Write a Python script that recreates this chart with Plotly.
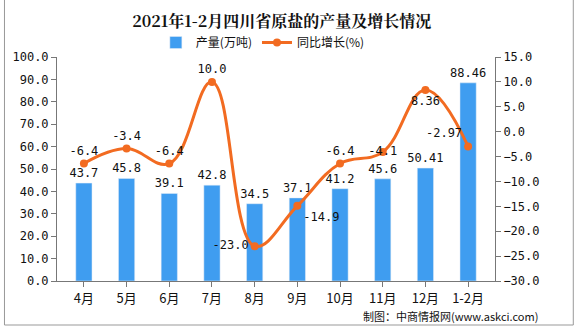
import plotly.graph_objects as go

categories = ["4月", "5月", "6月", "7月", "8月", "9月", "10月", "11月", "12月", "1-2月"]
output = [43.7, 45.8, 39.1, 42.8, 34.5, 37.1, 41.2, 45.6, 50.41, 88.46]
growth = [-6.4, -3.4, -6.4, 10.0, -23.0, -14.9, -6.4, -4.1, 8.36, -2.97]
output_labels = ["43.7", "45.8", "39.1", "42.8", "34.5", "37.1", "41.2", "45.6", "50.41", "88.46"]
growth_labels = ["-6.4", "-3.4", "-6.4", "10.0", "-23.0", "-14.9", "-6.4", "-4.1", "8.36", "-2.97"]
growth_pos = ["top center", "top center", "top center", "top center", "middle left",
              "bottom right", "top center", "middle center", "bottom center", "top left"]

FONT = "DejaVu Sans Mono, Noto Sans CJK SC"
CJK = "Noto Sans CJK SC"
fig = go.Figure()
fig.add_trace(go.Bar(
    x=categories, y=output, name="产量(万吨)", marker_color="#3f9df0",
    width=0.38, text=output_labels, textposition="outside", cliponaxis=False,
    constraintext="none",
    textfont=dict(size=12, color="#111", family=FONT), yaxis="y"))
fig.add_trace(go.Scatter(
    x=categories, y=growth, name="同比增长(%)", mode="lines+markers+text",
    line=dict(color="#f26b21", width=3, shape="spline", smoothing=1.15),
    marker=dict(color="#f26b21", size=8), text=growth_labels, textposition=growth_pos,
    textfont=dict(size=12, color="#111", family=FONT), yaxis="y2", cliponaxis=False))

fig.update_layout(
    width=575, height=326, margin=dict(l=53, r=80, t=57, b=45),
    paper_bgcolor="white", plot_bgcolor="white",
    font=dict(family=FONT, size=12, color="#111"),
    title=dict(text="<b>2021年1-2月四川省原盐的产量及增长情况</b>", x=0.49, xanchor="center",
               y=0.935, yanchor="middle", font=dict(size=16, family="Noto Serif CJK SC, Noto Sans CJK SC", color="#111")),
    legend=dict(orientation="h", x=0.47, xanchor="center", y=1.0, yanchor="bottom",
                font=dict(size=12, family=CJK), bgcolor="rgba(0,0,0,0)"),
    showlegend=True,
    xaxis=dict(showline=True, linecolor="#777", ticks="outside", tickcolor="#777",
               tickfont=dict(size=13, family=CJK), showgrid=False),
    yaxis=dict(range=[0, 100], dtick=10, tickformat=".1f", showline=True, linecolor="#777",
               ticks="outside", tickcolor="#777", showgrid=False, zeroline=False, tickfont=dict(size=12)),
    yaxis2=dict(range=[-30, 15], dtick=5, tickformat=".1f", overlaying="y", side="right",
                showline=True, linecolor="#777", ticks="outside", tickcolor="#777",
                showgrid=False, zeroline=False, tickfont=dict(size=12)),
)
fig.add_shape(type="rect", xref="paper", yref="paper",
              x0=-53/442, x1=(575-53-1)/442, y0=-44/224, y1=(326-45-0.5)/224 + 56/224,
              line=dict(color="#999", width=1))
fig.add_annotation(text="制图：中商情报网(www.askci.com)", xref="paper", yref="paper",
                   x=(540-53)/442, y=-35/224, xanchor="right", yanchor="middle",
                   showarrow=False, font=dict(size=11, color="#111", family=CJK))
fig.write_html("out.html")
